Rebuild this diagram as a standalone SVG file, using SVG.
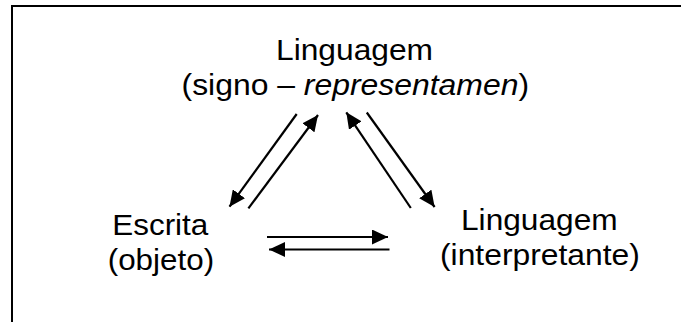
<svg xmlns="http://www.w3.org/2000/svg" width="681" height="322" viewBox="0 0 681 322">
<style>
.t{font-family:"Liberation Sans",Arial,sans-serif;font-size:30px;fill:#000;text-anchor:middle}
.c{stroke:#000;stroke-width:2.2;fill:none}
</style>
<defs>
<marker id="ah" viewBox="0 0 16 15" markerWidth="16" markerHeight="15" refX="16" refY="7.5" orient="auto" markerUnits="userSpaceOnUse">
<path d="M0,0 L16,7.5 L0,15 z" fill="#000"/>
</marker>
</defs>
<rect width="681" height="322" fill="#fff"/>
<path d="M12,322 V6 H681" stroke="#000" stroke-width="2" fill="none"/>
<g id="signo">
<text class="t" x="354.5" y="60" textLength="157" lengthAdjust="spacingAndGlyphs">Linguagem</text>
<text class="t" x="355.3" y="94.5" textLength="347.5" lengthAdjust="spacingAndGlyphs">(signo – <tspan font-style="italic">representamen</tspan>)</text>
</g>
<g id="objeto">
<text class="t" x="160.3" y="234.5" textLength="96" lengthAdjust="spacingAndGlyphs">Escrita</text>
<text class="t" x="160.9" y="269.5" textLength="106.4" lengthAdjust="spacingAndGlyphs">(objeto)</text>
</g>
<g id="interpretante">
<text class="t" x="539.3" y="229.5" textLength="156.6" lengthAdjust="spacingAndGlyphs">Linguagem</text>
<text class="t" x="539.9" y="264.5" textLength="199.8" lengthAdjust="spacingAndGlyphs">(interpretante)</text>
</g>
<g id="connectors">
<line class="c" x1="296.7" y1="114" x2="229.5" y2="206.7" marker-end="url(#ah)"/>
<line class="c" x1="248.4" y1="208.3" x2="318" y2="115" marker-end="url(#ah)"/>
<line class="c" x1="410.8" y1="208" x2="346.3" y2="112.3" marker-end="url(#ah)"/>
<line class="c" x1="366.8" y1="112.5" x2="434.6" y2="207" marker-end="url(#ah)"/>
<line class="c" x1="267" y1="237" x2="388" y2="237" marker-end="url(#ah)"/>
<line class="c" x1="389.5" y1="249.5" x2="269" y2="249.5" marker-end="url(#ah)"/>
</g>
</svg>
